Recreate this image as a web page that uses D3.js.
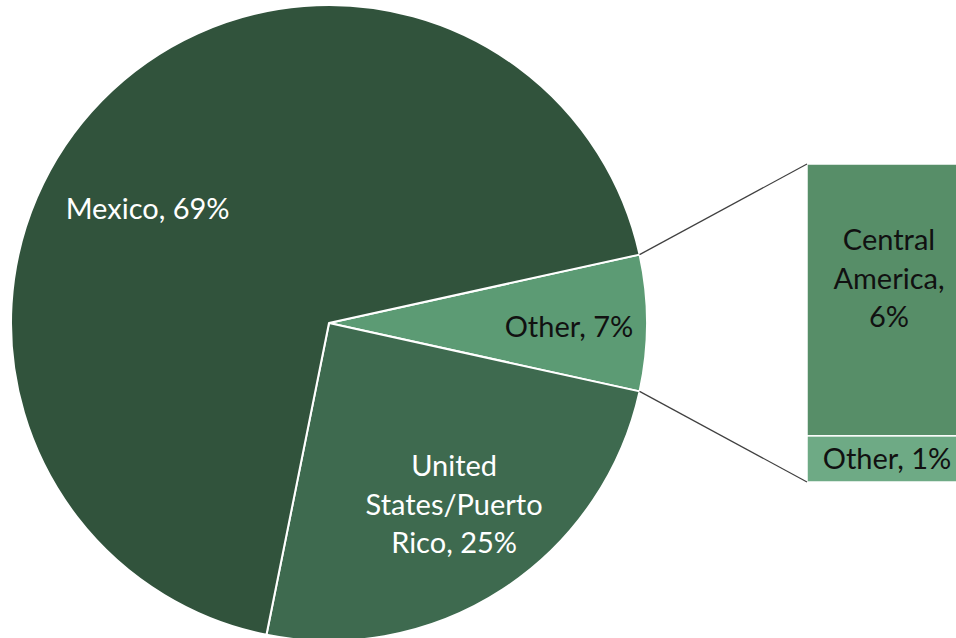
<!DOCTYPE html>
<html>
<head>
<meta charset="utf-8">
<script src="https://cdn.jsdelivr.net/npm/d3@7"></script>
<style>
  html, body { margin: 0; padding: 0; background: #fff; }
  svg { display: block; }
  .lbl { font-family: Lato, "Open Sans", sans-serif; font-size: 29px; }
</style>
</head>
<body>
<svg id="chart" width="956" height="638"></svg>
<script>
// pie slices (clockwise from the "Other" slice on the right)
const sliceNames = ['Other', 'United States/Puerto Rico', 'Mexico']
const sliceValues = [6.9, 24.7, 68.4]
const sliceLabels = ['Other, 7%', 'United\nStates/Puerto\nRico, 25%', 'Mexico, 69%']

// breakdown of "Other" in the stacked bar, top to bottom
const barNames = ['Central America', 'Other']
const barValues = [5.9, 1.0]
const barLabels = ['Central\nAmerica,\n6%', 'Other, 1%']

const sliceColors = { 'Other': '#5c9b74', 'United States/Puerto Rico': '#3e6a4f', 'Mexico': '#31533c' }
const sliceText = { 'Other': '#111', 'United States/Puerto Rico': '#fff', 'Mexico': '#fff' }
const labelNudge = { 'Other': [11, 4], 'United States/Puerto Rico': [0, -10], 'Mexico': [-18, 46] }
const barColors = ['#578e68', '#6eaa85']

const svg = d3.select('#chart')
const cx = 329, cy = 323, radius = 318
const lineH = 38.5

const total = d3.sum(sliceValues)
const otherShare = sliceValues[0] / total
const start = Math.PI / 2 - otherShare * Math.PI

const pie = d3.pie().sort(null)
  .startAngle(start)
  .endAngle(start + 2 * Math.PI)
const arcs = pie(sliceValues)

const arc = d3.arc().innerRadius(0).outerRadius(radius)
const labelArc = d3.arc().innerRadius(radius * 0.72).outerRadius(radius * 0.72)

const g = svg.append('g').attr('transform', `translate(${cx},${cy})`)

g.selectAll('path')
  .data(arcs)
  .join('path')
  .attr('d', arc)
  .attr('fill', (d, i) => sliceColors[sliceNames[i]])
  .attr('stroke', '#fff')
  .attr('stroke-width', 2)
  .attr('stroke-linejoin', 'round')

function multiline (sel, text, x, y, color) {
  const lines = text.split('\n')
  const t = sel.append('text')
    .attr('class', 'lbl')
    .attr('text-anchor', 'middle')
    .attr('fill', color)
  const y0 = y - (lines.length - 1) * lineH / 2 + 10
  lines.forEach((ln, k) => {
    t.append('tspan').attr('x', x).attr('y', y0 + k * lineH).text(ln)
  })
}

arcs.forEach((d, i) => {
  const name = sliceNames[i]
  const [lx, ly] = labelArc.centroid(d)
  const nd = labelNudge[name]
  multiline(g, sliceLabels[i], lx + nd[0], ly + nd[1], sliceText[name])
})

// stacked bar for the breakdown
const barX = 807, barW = 160, barTop = 164, barBottom = 482
const yScale = d3.scaleLinear()
  .domain([0, d3.sum(barValues)])
  .range([barTop, barBottom])
const cum = d3.cumsum([0].concat(barValues))

svg.selectAll('rect.seg')
  .data(barValues)
  .join('rect')
  .attr('class', 'seg')
  .attr('x', barX)
  .attr('y', (d, i) => yScale(cum[i]))
  .attr('width', barW)
  .attr('height', (d, i) => yScale(cum[i + 1]) - yScale(cum[i]))
  .attr('fill', (d, i) => barColors[i])
  .attr('stroke', '#fff')
  .attr('stroke-width', 1.5)

barValues.forEach((v, i) => {
  const my = (yScale(cum[i]) + yScale(cum[i + 1])) / 2
  const offs = i === 0 ? -21 : 0
  multiline(svg, barLabels[i], barX + barW / 2 + (i === 0 ? 2 : 0), my + offs, '#111')
})

// connector lines from the "Other" slice to the bar
const o = arcs[0]
const p1 = [cx + radius * Math.sin(o.startAngle), cy - radius * Math.cos(o.startAngle)]
const p2 = [cx + radius * Math.sin(o.endAngle), cy - radius * Math.cos(o.endAngle)]
svg.append('line')
  .attr('x1', p1[0]).attr('y1', p1[1])
  .attr('x2', barX).attr('y2', yScale(0))
  .attr('stroke', '#404040').attr('stroke-width', 1.2)
svg.append('line')
  .attr('x1', p2[0]).attr('y1', p2[1])
  .attr('x2', barX).attr('y2', yScale(d3.sum(barValues)))
  .attr('stroke', '#404040').attr('stroke-width', 1.2)
</script>
</body>
</html>
